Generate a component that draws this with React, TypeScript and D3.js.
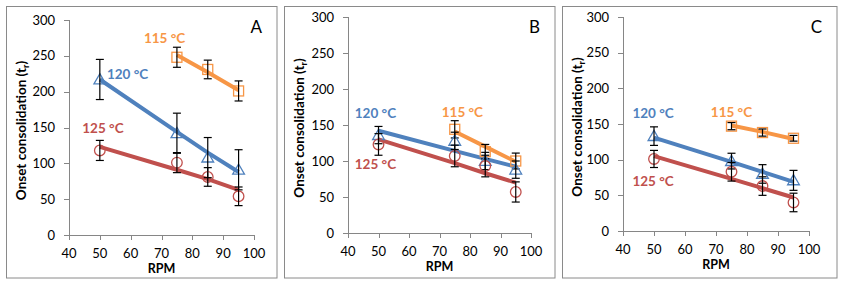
import React from "react";
import * as d3 from "d3";

const rpm115 = [75, 85, 95];
const rpmAll = [50, 75, 85, 95];
const xTicks = [40, 50, 60, 70, 80, 90, 100];
const yTicks = [0, 50, 100, 150, 200, 250, 300];
const panelLetters = ["A", "B", "C"];
const seriesLabels = ["115 °C", "120 °C", "125 °C"];

// Panel A
const a115 = [248, 231, 201];
const a115Err = [14, 13, 14];
const a115Fit = [251, 227, 202];
const a120 = [217, 142, 108, 91];
const a120Err = [28, 28, 28, 28];
const a120Fit = [217, 144, 115, 88];
const a125 = [118, 101, 81, 54];
const a125Err = [14, 14, 13, 13];
const a125Fit = [123, 91, 78, 63];
// Panel B
const b115 = [144, 113, 100];
const b115Err = [12, 10, 11];
const b115Fit = [141, 120, 99];
const b120 = [136, 128, 100, 88];
const b120Err = [12, 12, 12, 12];
const b120Fit = [142, 114, 103, 92];
const b125 = [123, 107, 93, 57];
const b125Err = [15, 15, 15, 14];
const b125Fit = [130, 97, 83, 70];
// Panel C
const c115 = [147, 138, 130];
const c115Err = [5, 5, 4];
const c115Fit = [148, 139, 129];
const c120 = [133, 98, 80, 71];
const c120Err = [13, 11, 13, 14];
const c120Fit = [131, 97, 83, 69];
const c125 = [101, 83, 63, 40];
const c125Err = [12, 13, 13, 13];
const c125Fit = [105, 73, 60, 47];

// label anchor positions in data coordinates [x, y] for 115,120,125
const aLabelPos = [[71, 275], [59, 224], [51, 149]];
const bLabelPos = [[77.5, 168], [49, 167], [49, 96]];
const cLabelPos = [[75, 167], [49.7, 165], [49.7, 70]];

const C115 = "#F79646";
const C120 = "#4F81BD";
const C125 = "#C0504D";
const FONT = "Lato, 'Open Sans', sans-serif";

type Series = { x: number[]; y: number[]; err: number[]; fit: number[]; color: string; marker: string };

const panels = [
  {
    letter: panelLetters[0],
    frame: [6.5, 6.5, 277, 278],
    plot: [69, 254, 20, 235],
    labels: aLabelPos,
    series: [
      { x: rpm115, y: a115, err: a115Err, fit: a115Fit, color: C115, marker: "square" },
      { x: rpmAll, y: a120, err: a120Err, fit: a120Fit, color: C120, marker: "triangle" },
      { x: rpmAll, y: a125, err: a125Err, fit: a125Fit, color: C125, marker: "circle" },
    ] as Series[],
  },
  {
    letter: panelLetters[1],
    frame: [284.5, 6.5, 555, 278],
    plot: [348, 531, 17, 233],
    labels: bLabelPos,
    series: [
      { x: rpm115, y: b115, err: b115Err, fit: b115Fit, color: C115, marker: "square" },
      { x: rpmAll, y: b120, err: b120Err, fit: b120Fit, color: C120, marker: "triangle" },
      { x: rpmAll, y: b125, err: b125Err, fit: b125Fit, color: C125, marker: "circle" },
    ] as Series[],
  },
  {
    letter: panelLetters[2],
    frame: [562.5, 6.5, 837, 278],
    plot: [623, 809, 17, 231],
    labels: cLabelPos,
    series: [
      { x: rpm115, y: c115, err: c115Err, fit: c115Fit, color: C115, marker: "square" },
      { x: rpmAll, y: c120, err: c120Err, fit: c120Fit, color: C120, marker: "triangle" },
      { x: rpmAll, y: c125, err: c125Err, fit: c125Fit, color: C125, marker: "circle" },
    ] as Series[],
  },
];

function Marker({ type, cx, cy, color }: { type: string; cx: number; cy: number; color: string }) {
  if (type === "square")
    return <rect x={cx - 5} y={cy - 5} width={10} height={10} fill="none" stroke={color} strokeWidth={1.3} />;
  if (type === "circle") return <circle cx={cx} cy={cy} r={5.3} fill="none" stroke={color} strokeWidth={1.3} />;
  const p = d3.symbol(d3.symbolTriangle, 60)();
  return <path d={p || ""} transform={`translate(${cx},${cy + 1})`} fill="none" stroke={color} strokeWidth={1.3} />;
}

function Panel({ p }: { p: (typeof panels)[number] }) {
  const [fx0, fy0, fx1, fy1] = p.frame;
  const [l, r, t, b] = p.plot;
  const x = d3.scaleLinear().domain([40, 100]).range([l, r]);
  const y = d3.scaleLinear().domain([0, 300]).range([b, t]);
  const line = d3
    .line<[number, number]>()
    .x((d) => x(d[0]))
    .y((d) => y(d[1]));
  const axisColor = "#868686";
  return (
    <g>
      <rect x={fx0} y={fy0} width={fx1 - fx0} height={fy1 - fy0} fill="white" stroke="#8a8a8a" strokeWidth={1} />
      <line x1={l + 0.5} x2={l + 0.5} y1={t} y2={b} stroke={axisColor} strokeWidth={1} />
      <line x1={l} x2={r} y1={b + 0.5} y2={b + 0.5} stroke={axisColor} strokeWidth={1} />
      {yTicks.map((v) => (
        <g key={"y" + v}>
          <line x1={l - 5} x2={l} y1={Math.round(y(v)) + 0.5} y2={Math.round(y(v)) + 0.5} stroke={axisColor} />
          <text x={l - 14} y={y(v) + 4.5} textAnchor="end" fontSize={13} fontFamily={FONT} fill="#000">
            {v}
          </text>
        </g>
      ))}
      {xTicks.map((v) => (
        <g key={"x" + v}>
          <line x1={Math.round(x(v)) + 0.5} x2={Math.round(x(v)) + 0.5} y1={b} y2={b + 5} stroke={axisColor} />
          <text x={x(v)} y={b + 23} textAnchor="middle" fontSize={13} fontFamily={FONT} fill="#000">
            {v}
          </text>
        </g>
      ))}
      <text x={(l + r) / 2} y={b + 37.5} textAnchor="middle" fontSize={12.5} fontWeight="bold" fontFamily={FONT} fill="#000">
        RPM
      </text>
      <text
        transform={`translate(${fx0 + 19},${(t + b) / 2 + 3}) rotate(-90)`}
        textAnchor="middle"
        fontSize={13.5}
        fontWeight="bold"
        fontFamily={FONT}
        fill="#000"
      >
        Onset consolidation (t<tspan fontSize={9} dy={3}>r</tspan>
        <tspan dy={-3}>)</tspan>
      </text>
      <text x={fx1 - 15} y={fy0 + 26} textAnchor="end" fontSize={17} fontFamily={FONT} fill="#000">
        {p.letter}
      </text>
      {p.series.map((s, i) => (
        <path
          key={"fit" + i}
          d={line(s.x.map((xv, j) => [xv, s.fit[j]] as [number, number])) || ""}
          fill="none"
          stroke={s.color}
          strokeWidth={4}
        />
      ))}
      {p.series.map((s, i) => (
        <g key={"s" + i}>
          {s.x.map((xv, j) => (
            <g key={j}>
              <Marker type={s.marker} cx={x(xv)} cy={y(s.y[j])} color={s.color} />
              <line x1={x(xv)} x2={x(xv)} y1={y(s.y[j] + s.err[j])} y2={y(s.y[j] - s.err[j])} stroke="#000" strokeWidth={1.2} />
              <line x1={x(xv) - 4} x2={x(xv) + 4} y1={y(s.y[j] + s.err[j])} y2={y(s.y[j] + s.err[j])} stroke="#000" strokeWidth={1.2} />
              <line x1={x(xv) - 4} x2={x(xv) + 4} y1={y(s.y[j] - s.err[j])} y2={y(s.y[j] - s.err[j])} stroke="#000" strokeWidth={1.2} />
            </g>
          ))}
        </g>
      ))}
      {p.series.map((s, i) => (
        <text
          key={"lab" + i}
          x={x(p.labels[i][0])}
          y={y(p.labels[i][1]) + 5}
          textAnchor="middle"
          fontSize={13.5}
          fontWeight="bold"
          fontFamily={FONT}
          fill={s.color}
        >
          {seriesLabels[i]}
        </text>
      ))}
    </g>
  );
}

export default function App() {
  return (
    <svg width={841} height={286} style={{ position: "absolute", left: 0, top: 0, background: "white" }}>
      <rect x={0} y={0} width={841} height={286} fill="white" />
      {panels.map((p) => (
        <Panel key={p.letter} p={p} />
      ))}
    </svg>
  );
}
